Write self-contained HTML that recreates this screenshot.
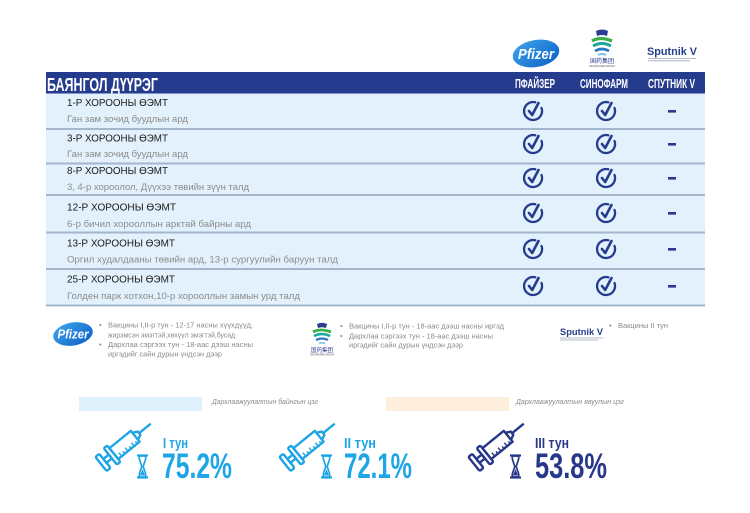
<!DOCTYPE html>
<html>
<head>
<meta charset="utf-8">
<style>
html,body{margin:0;padding:0;background:#fff;}
body{width:750px;height:513px;overflow:hidden;}
svg{display:block;}
text{font-family:"Liberation Sans","Noto Sans CJK SC",sans-serif;}
</style>
</head>
<body>
<svg width="750" height="513" viewBox="0 0 750 513" xmlns="http://www.w3.org/2000/svg">
<defs>
<linearGradient id="pg" x1="0" y1="0" x2="1" y2="1">
<stop offset="0" stop-color="#3fa6ee"/>
<stop offset="1" stop-color="#0b5fc4"/>
</linearGradient>
</defs>

<!-- Top logos -->
<ellipse cx="536" cy="53.5" rx="23.5" ry="13.5" transform="rotate(-10 536 53.5)" fill="url(#pg)"/>
<text x="518" y="59" font-size="15" font-style="italic" font-weight="bold" fill="#fff" textLength="36" lengthAdjust="spacingAndGlyphs">Pfizer</text>

<g transform="translate(602,30)">
<path d="M-6,1 Q0,-2 6,1 L5,6 Q0,4 -5,6 Z" fill="#2b3b8f"/>
<path d="M-10,11 Q-2,6 10,11" stroke="#3dae49" stroke-width="3.2" fill="none"/>
<path d="M-9,16 Q0,11 9,16" stroke="#1aa89a" stroke-width="3" fill="none"/>
<path d="M-7,21 Q0,17 7,21" stroke="#2a78c2" stroke-width="2.6" fill="none"/>
<path d="M-4,25 Q0,23 4,25" stroke="#7cc0e8" stroke-width="2" fill="none"/>
<text x="0" y="33" font-size="6" fill="#2b3b8f" text-anchor="middle" font-family="Noto Sans CJK SC, sans-serif">国药集团</text>
<text x="0" y="37" font-size="2.6" fill="#555" text-anchor="middle">SINOPHARM GROUP</text>
</g>

<text x="647" y="55" font-size="11" font-weight="bold" fill="#253f8c" textLength="50" lengthAdjust="spacingAndGlyphs">Sputnik V</text>
<line x1="648" y1="58.5" x2="696" y2="58.5" stroke="#9aa6b8" stroke-width="0.8"/>
<line x1="648" y1="60.8" x2="690" y2="60.8" stroke="#9aa6b8" stroke-width="0.8"/>

<!-- Table -->
<rect x="46" y="72" width="659" height="21.5" fill="#253b8d"/>
<text x="47" y="91" font-size="18" font-weight="bold" fill="#fff" textLength="111" lengthAdjust="spacingAndGlyphs">БАЯНГОЛ ДҮҮРЭГ</text>
<text x="515" y="88" font-size="12.5" font-weight="bold" fill="#fff" textLength="40" lengthAdjust="spacingAndGlyphs">ПФАЙЗЕР</text>
<text x="580" y="88" font-size="12.5" font-weight="bold" fill="#fff" textLength="48" lengthAdjust="spacingAndGlyphs">СИНОФАРМ</text>
<text x="648" y="88" font-size="12.5" font-weight="bold" fill="#fff" textLength="47" lengthAdjust="spacingAndGlyphs">СПУТНИК V</text>

<rect x="46" y="93.5" width="659" height="212" fill="#e2f1fb"/>
<g stroke="#a3b6cc" stroke-width="2">
<line x1="46" y1="129" x2="705" y2="129"/>
<line x1="46" y1="163.5" x2="705" y2="163.5"/>
<line x1="46" y1="195" x2="705" y2="195"/>
<line x1="46" y1="232.5" x2="705" y2="232.5"/>
<line x1="46" y1="269" x2="705" y2="269"/>
<line x1="46" y1="305.5" x2="705" y2="305.5"/>
</g>

<g font-size="10.5" fill="#1a1a1a">
<text x="67" y="106" textLength="101" lengthAdjust="spacingAndGlyphs">1-Р ХОРООНЫ ӨЭМТ</text>
<text x="67" y="141.5" textLength="101" lengthAdjust="spacingAndGlyphs">3-Р ХОРООНЫ ӨЭМТ</text>
<text x="67" y="174" textLength="101" lengthAdjust="spacingAndGlyphs">8-Р ХОРООНЫ ӨЭМТ</text>
<text x="67" y="210.5" textLength="109" lengthAdjust="spacingAndGlyphs">12-Р ХОРООНЫ ӨЭМТ</text>
<text x="67" y="246.5" textLength="108" lengthAdjust="spacingAndGlyphs">13-Р ХОРООНЫ ӨЭМТ</text>
<text x="67" y="282.5" textLength="108" lengthAdjust="spacingAndGlyphs">25-Р ХОРООНЫ ӨЭМТ</text>
</g>
<g font-size="9" fill="#8c8c8c">
<text x="67" y="122" textLength="121" lengthAdjust="spacingAndGlyphs">Ган зам зочид буудлын ард</text>
<text x="67" y="157" textLength="121" lengthAdjust="spacingAndGlyphs">Ган зам зочид буудлын ард</text>
<text x="67" y="190" textLength="182" lengthAdjust="spacingAndGlyphs">3, 4-р хороолол, Дүүхээ төвийн зүүн талд</text>
<text x="67" y="227" textLength="184" lengthAdjust="spacingAndGlyphs">6-р бичил хорооллын арктай байрны ард</text>
<text x="67" y="262.5" textLength="271" lengthAdjust="spacingAndGlyphs">Оргил худалдааны төвийн ард, 13-р сургуулийн баруун талд</text>
<text x="67" y="299" textLength="233" lengthAdjust="spacingAndGlyphs">Голден парк хотхон,10-р хорооллын замын урд талд</text>
</g>

<!-- checks -->
<g fill="none" stroke="#253b8d" stroke-width="2.3" stroke-linecap="round" stroke-linejoin="round">
<g transform="translate(533,111)"><path d="M2.3,-8.7 A9,9 0 1 0 8.5,-3.1"/><path d="M-4,0 L-0.8,4 L5.5,-8" stroke-width="2.6"/></g>
<g transform="translate(606,111)"><path d="M2.3,-8.7 A9,9 0 1 0 8.5,-3.1"/><path d="M-4,0 L-0.8,4 L5.5,-8" stroke-width="2.6"/></g>
<g transform="translate(533,144)"><path d="M2.3,-8.7 A9,9 0 1 0 8.5,-3.1"/><path d="M-4,0 L-0.8,4 L5.5,-8" stroke-width="2.6"/></g>
<g transform="translate(606,144)"><path d="M2.3,-8.7 A9,9 0 1 0 8.5,-3.1"/><path d="M-4,0 L-0.8,4 L5.5,-8" stroke-width="2.6"/></g>
<g transform="translate(533,178)"><path d="M2.3,-8.7 A9,9 0 1 0 8.5,-3.1"/><path d="M-4,0 L-0.8,4 L5.5,-8" stroke-width="2.6"/></g>
<g transform="translate(606,178)"><path d="M2.3,-8.7 A9,9 0 1 0 8.5,-3.1"/><path d="M-4,0 L-0.8,4 L5.5,-8" stroke-width="2.6"/></g>
<g transform="translate(533,213)"><path d="M2.3,-8.7 A9,9 0 1 0 8.5,-3.1"/><path d="M-4,0 L-0.8,4 L5.5,-8" stroke-width="2.6"/></g>
<g transform="translate(606,213)"><path d="M2.3,-8.7 A9,9 0 1 0 8.5,-3.1"/><path d="M-4,0 L-0.8,4 L5.5,-8" stroke-width="2.6"/></g>
<g transform="translate(533,249)"><path d="M2.3,-8.7 A9,9 0 1 0 8.5,-3.1"/><path d="M-4,0 L-0.8,4 L5.5,-8" stroke-width="2.6"/></g>
<g transform="translate(606,249)"><path d="M2.3,-8.7 A9,9 0 1 0 8.5,-3.1"/><path d="M-4,0 L-0.8,4 L5.5,-8" stroke-width="2.6"/></g>
<g transform="translate(533,286)"><path d="M2.3,-8.7 A9,9 0 1 0 8.5,-3.1"/><path d="M-4,0 L-0.8,4 L5.5,-8" stroke-width="2.6"/></g>
<g transform="translate(606,286)"><path d="M2.3,-8.7 A9,9 0 1 0 8.5,-3.1"/><path d="M-4,0 L-0.8,4 L5.5,-8" stroke-width="2.6"/></g>
</g>
<g fill="#253b8d">
<rect x="668" y="110" width="8" height="2.6"/>
<rect x="668" y="143" width="8" height="2.6"/>
<rect x="668" y="177" width="8" height="2.6"/>
<rect x="668" y="212" width="8" height="2.6"/>
<rect x="668" y="248" width="8" height="2.6"/>
<rect x="668" y="285" width="8" height="2.6"/>
</g>

<!-- Vaccine legend -->
<ellipse cx="73" cy="334" rx="20" ry="11.5" transform="rotate(-10 73 334)" fill="url(#pg)"/>
<text x="57.5" y="338.5" font-size="12.5" font-style="italic" font-weight="bold" fill="#fff" textLength="31" lengthAdjust="spacingAndGlyphs">Pfizer</text>

<g font-size="7.5" fill="#8a8a8a">
<text x="99" y="327.5">•</text>
<text x="108" y="327.5" textLength="145" lengthAdjust="spacingAndGlyphs">Вакцины I,II-р тун - 12-17 насны хүүхдүүд,</text>
<text x="108" y="337.5" textLength="127" lengthAdjust="spacingAndGlyphs">жирэмсэн эмэгтэй,хөхүүл эмэгтэй,бусад</text>
<text x="99" y="347">•</text>
<text x="108" y="347" textLength="145" lengthAdjust="spacingAndGlyphs">Дархлаа сэргээх тун - 18-аас дээш насны</text>
<text x="108" y="356.5" textLength="114" lengthAdjust="spacingAndGlyphs">иргэдийг сайн дурын үндсэн дээр</text>

<text x="340" y="328.5">•</text>
<text x="349" y="328.5" textLength="155" lengthAdjust="spacingAndGlyphs">Вакцины I,II-р тун - 18-аас дээш насны иргэд</text>
<text x="340" y="338.5">•</text>
<text x="349" y="338.5" textLength="144" lengthAdjust="spacingAndGlyphs">Дархлаа сэргээх тун - 18-аас дээш насны</text>
<text x="349" y="347.5" textLength="114" lengthAdjust="spacingAndGlyphs">иргэдийг сайн дурын үндсэн дээр</text>

<text x="609" y="328">•</text>
<text x="618" y="328" textLength="50" lengthAdjust="spacingAndGlyphs">Вакцины II тун</text>
</g>

<g transform="translate(322,323)">
<path d="M-5,1 Q0,-1.5 5,1 L4,5 Q0,3.5 -4,5 Z" fill="#2b3b8f"/>
<path d="M-9,9 Q-2,5 9,9" stroke="#3dae49" stroke-width="2.8" fill="none"/>
<path d="M-8,13 Q0,9 8,13" stroke="#1aa89a" stroke-width="2.6" fill="none"/>
<path d="M-6,17 Q0,14 6,17" stroke="#2a78c2" stroke-width="2.2" fill="none"/>
<path d="M-3,20.5 Q0,19 3,20.5" stroke="#7cc0e8" stroke-width="1.8" fill="none"/>
<text x="0" y="29" font-size="5.5" fill="#2b3b8f" text-anchor="middle" font-family="Noto Sans CJK SC, sans-serif">国药集团</text>
<text x="0" y="32.5" font-size="2.4" fill="#555" text-anchor="middle">SINOPHARM GROUP</text>
</g>

<text x="560" y="335" font-size="9.5" font-weight="bold" fill="#253f8c" textLength="43" lengthAdjust="spacingAndGlyphs">Sputnik V</text>
<line x1="560" y1="338" x2="603" y2="338" stroke="#9aa6b8" stroke-width="0.7"/>
<line x1="560" y1="340" x2="598" y2="340" stroke="#9aa6b8" stroke-width="0.7"/>

<!-- Color legend -->
<rect x="79" y="397" width="123" height="14" fill="#dff0fb"/>
<text x="212" y="404" font-size="7.5" font-style="italic" fill="#8a8a8a" textLength="106" lengthAdjust="spacingAndGlyphs">Дархлаажуулалтын байнгын цэг</text>
<rect x="386" y="397" width="123" height="14" fill="#fdeedd"/>
<text x="516" y="404" font-size="7.5" font-style="italic" fill="#8a8a8a" textLength="108" lengthAdjust="spacingAndGlyphs">Дархлаажуулалтын явуулын цэг</text>

<!-- Stats -->
<g stroke="#1ea5e6" fill="none" stroke-linejoin="round">
<g transform="translate(101,464) rotate(-39)" stroke-width="2.4">
<rect x="0" y="-9" width="5" height="18" rx="1.5"/>
<rect x="5" y="-2.5" width="7" height="5"/>
<rect x="12" y="-10.5" width="4.5" height="21" rx="1.5"/>
<rect x="16.5" y="-7" width="27.5" height="14"/>
<path d="M44,-4.5 L49,-2 L49,2 L44,4.5"/>
<line x1="49" y1="0" x2="64" y2="0"/>
<path d="M21,7 v-4.5 M25,7 v-3 M29,7 v-4.5 M33,7 v-3 M37,7 v-4.5 M41,7 v-3" stroke-width="1.4"/>
</g>
<g>
<line x1="137" y1="455.5" x2="148" y2="455.5" stroke-width="2.2"/>
<line x1="137" y1="477.5" x2="148" y2="477.5" stroke-width="2.2"/>
<path d="M139.3,456 L145.7,456 L145.7,459 L143.2,466.5 L145.7,474 L145.7,477 L139.3,477 L139.3,474 L141.8,466.5 L139.3,459 Z" stroke-width="1.7"/>
<path d="M142.5,469 L145,475.5 L140,475.5 Z" fill="#1ea5e6" stroke="none"/>
</g>
</g>
<text x="163" y="448" font-size="15" font-weight="bold" fill="#1ea5e6" textLength="25" lengthAdjust="spacingAndGlyphs">I тун</text>
<text x="162" y="478" font-size="35" font-weight="bold" fill="#1ea5e6" textLength="70" lengthAdjust="spacingAndGlyphs">75.2%</text>

<g stroke="#1ea5e6" fill="none" stroke-linejoin="round" transform="translate(184,0)">
<g transform="translate(101,464) rotate(-39)" stroke-width="2.4">
<rect x="0" y="-9" width="5" height="18" rx="1.5"/>
<rect x="5" y="-2.5" width="7" height="5"/>
<rect x="12" y="-10.5" width="4.5" height="21" rx="1.5"/>
<rect x="16.5" y="-7" width="27.5" height="14"/>
<path d="M44,-4.5 L49,-2 L49,2 L44,4.5"/>
<line x1="49" y1="0" x2="64" y2="0"/>
<path d="M21,7 v-4.5 M25,7 v-3 M29,7 v-4.5 M33,7 v-3 M37,7 v-4.5 M41,7 v-3" stroke-width="1.4"/>
</g>
<g>
<line x1="137" y1="455.5" x2="148" y2="455.5" stroke-width="2.2"/>
<line x1="137" y1="477.5" x2="148" y2="477.5" stroke-width="2.2"/>
<path d="M139.3,456 L145.7,456 L145.7,459 L143.2,466.5 L145.7,474 L145.7,477 L139.3,477 L139.3,474 L141.8,466.5 L139.3,459 Z" stroke-width="1.7"/>
<path d="M142.5,469 L145,475.5 L140,475.5 Z" fill="#1ea5e6" stroke="none"/>
</g>
</g>
<text x="344" y="448" font-size="15" font-weight="bold" fill="#1ea5e6" textLength="32" lengthAdjust="spacingAndGlyphs">II тун</text>
<text x="344" y="478" font-size="35" font-weight="bold" fill="#1ea5e6" textLength="68" lengthAdjust="spacingAndGlyphs">72.1%</text>

<g stroke="#27378a" fill="none" stroke-linejoin="round" transform="translate(373,0)">
<g transform="translate(101,464) rotate(-39)" stroke-width="2.4">
<rect x="0" y="-9" width="5" height="18" rx="1.5"/>
<rect x="5" y="-2.5" width="7" height="5"/>
<rect x="12" y="-10.5" width="4.5" height="21" rx="1.5"/>
<rect x="16.5" y="-7" width="27.5" height="14"/>
<path d="M44,-4.5 L49,-2 L49,2 L44,4.5"/>
<line x1="49" y1="0" x2="64" y2="0"/>
<path d="M21,7 v-4.5 M25,7 v-3 M29,7 v-4.5 M33,7 v-3 M37,7 v-4.5 M41,7 v-3" stroke-width="1.4"/>
</g>
<g>
<line x1="137" y1="455.5" x2="148" y2="455.5" stroke-width="2.2"/>
<line x1="137" y1="477.5" x2="148" y2="477.5" stroke-width="2.2"/>
<path d="M139.3,456 L145.7,456 L145.7,459 L143.2,466.5 L145.7,474 L145.7,477 L139.3,477 L139.3,474 L141.8,466.5 L139.3,459 Z" stroke-width="1.7"/>
<path d="M142.5,469 L145,475.5 L140,475.5 Z" fill="#27378a" stroke="none"/>
</g>
</g>
<text x="535" y="448" font-size="15" font-weight="bold" fill="#27378a" textLength="34" lengthAdjust="spacingAndGlyphs">III тун</text>
<text x="535" y="478" font-size="35" font-weight="bold" fill="#27378a" textLength="72" lengthAdjust="spacingAndGlyphs">53.8%</text>
</svg>
</body>
</html>
